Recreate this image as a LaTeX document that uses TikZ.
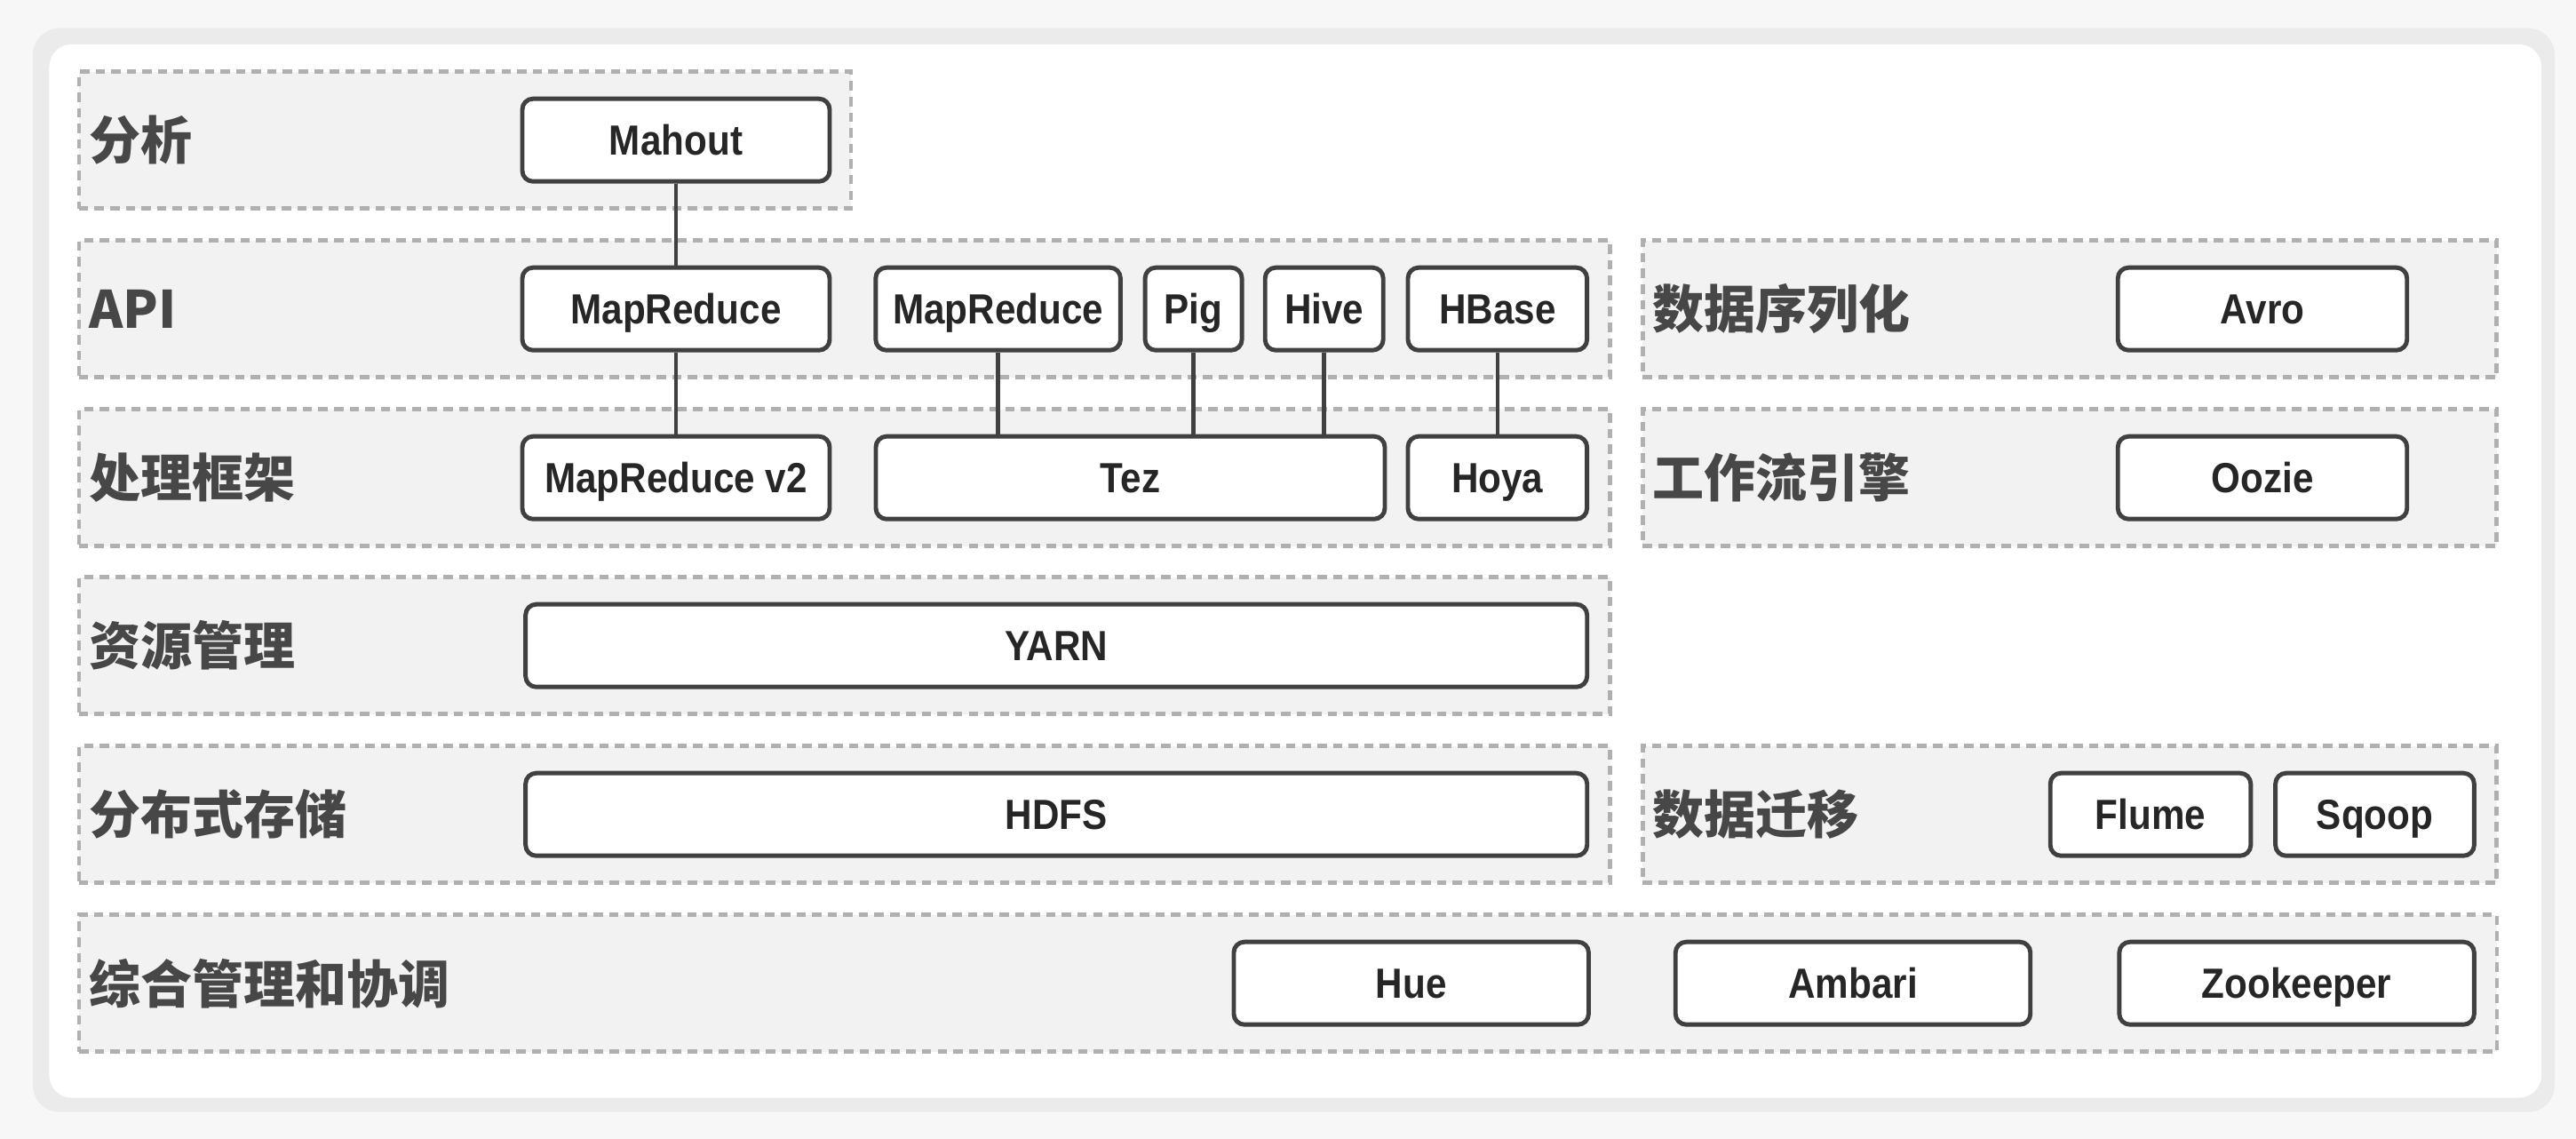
\documentclass[tikz,border=0pt]{standalone}
\usepackage{fontspec}
\setmainfont{Liberation Sans}
\newfontfamily\cjk{Noto Sans CJK SC}
\newfontfamily\boxfont[FakeStretch=0.89]{Liberation Sans}
\usepackage{tikz}
\usetikzlibrary{positioning}
\tikzset{
area/.style={draw=gray!62, fill=gray!10, dash pattern=on 3pt off 2pt, line width=1.3pt, minimum height=1.54cm, inner sep=0pt}, % dashed layer band
comp/.style={draw=black!75, fill=white, line width=1.4pt, rounded corners=0.12cm, minimum height=0.93cm, inner sep=0pt, text height=9.7pt, text depth=0pt, text=black!85, font=\boxfont\bfseries\fontsize{13.5}{16}\selectfont}, % component box
lbl/.style={anchor=west, inner sep=0pt, text=black!72, font=\cjk\bfseries\fontsize{16.5}{20}\selectfont}, % layer name
link/.style={draw=black!75, line width=1.3pt}, % plain connector
}

\begin{document}
\begin{tikzpicture}
\useasboundingbox (0,0) rectangle (29,12.817);
% backdrop and card
\fill[gray!6] (0,0) rectangle (29,12.817);
\fill[gray!16, rounded corners=0.3cm] (0.37,0.30) rectangle (28.76,12.50);
\fill[white, rounded corners=0.25cm] (0.555,0.462) rectangle (28.61,12.318);

% layers
\node[area, minimum width=8.69cm] (ana) at (5.234,11.24) {};
\node[area, minimum width=17.237cm] (api) at (9.507,9.34) {};
\node[area, minimum width=17.237cm] (proc) at (9.507,7.44) {};
\node[area, minimum width=17.237cm] (res) at (9.507,5.55) {};
\node[area, minimum width=17.237cm] (store) at (9.507,3.65) {};
\node[area, minimum width=27.22cm] (mgmt) at (14.50,1.75) {};
\node[area, minimum width=9.615cm] (ser) at (23.30,9.34) {};
\node[area, minimum width=9.615cm] (flow) at (23.30,7.44) {};
\node[area, minimum width=9.615cm] (mig) at (23.30,3.65) {};

\node[lbl, right=0.13cm of ana.west] (lana) {分析};
\node[lbl, right=0.13cm of api.west] (lapi) {API};
\node[lbl, right=0.13cm of proc.west] (lproc) {处理框架};
\node[lbl, right=0.13cm of res.west] (lres) {资源管理};
\node[lbl, right=0.13cm of store.west] (lstore) {分布式存储};
\node[lbl, right=0.13cm of mgmt.west] (lmgmt) {综合管理和协调};
\node[lbl, right=0.13cm of ser.west] (lser) {数据序列化};
\node[lbl, right=0.13cm of flow.west] (lflow) {工作流引擎};
\node[lbl, right=0.13cm of mig.west] (lmig) {数据迁移};

% components
\node[comp, minimum width=3.46cm] (mahout) at (7.61,11.24) {Mahout};
\node[comp, minimum width=3.46cm] (mrapi) at (7.61,9.34) {MapReduce};
\node[comp, minimum width=2.756cm] (mrtez) at (11.236,9.34) {MapReduce};
\node[comp, minimum width=1.09cm] (pig) at (13.436,9.34) {Pig};
\node[comp, minimum width=1.33cm] (hive) at (14.907,9.34) {Hive};
\node[comp, minimum width=2.016cm] (hbase) at (16.858,9.34) {HBase};
\node[comp, minimum width=3.46cm] (mrv2) at (7.61,7.44) {MapReduce v2};
\node[comp, minimum width=5.73cm] (tez) at (12.725,7.44) {Tez};
\node[comp, minimum width=2.016cm] (hoya) at (16.858,7.44) {Hoya};
\node[comp, minimum width=11.95cm] (yarn) at (11.892,5.55) {YARN};
\node[comp, minimum width=11.95cm] (hdfs) at (11.892,3.65) {HDFS};
\node[comp, minimum width=3.255cm] (avro) at (25.47,9.34) {Avro};
\node[comp, minimum width=3.255cm] (oozie) at (25.47,7.44) {Oozie};
\node[comp, minimum width=2.256cm] (flume) at (24.21,3.65) {Flume};
\node[comp, minimum width=2.237cm] (sqoop) at (26.735,3.65) {Sqoop};
\node[comp, minimum width=3.995cm] (hue) at (15.887,1.75) {Hue};
\node[comp, minimum width=3.995cm] (ambari) at (20.86,1.75) {Ambari};
\node[comp, minimum width=3.995cm] (zk) at (25.856,1.75) {Zookeeper};

% links
\draw[link] (mahout) -- (mrapi);
\draw[link] (mrapi) -- (mrv2);
\draw[link] (mrtez) -- (mrtez |- tez.north);
\draw[link] (pig) -- (pig |- tez.north);
\draw[link] (hive) -- (hive |- tez.north);
\draw[link] (hbase) -- (hoya);
\end{tikzpicture}
\end{document}
